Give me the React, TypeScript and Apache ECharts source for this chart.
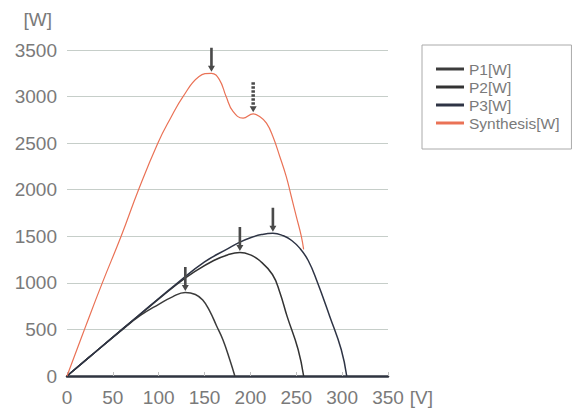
import React, { useEffect, useRef } from "react";
import * as echarts from "echarts";

const xTicks = [0, 50, 100, 150, 200, 250, 300, 350];
const yTicks = [0, 500, 1000, 1500, 2000, 2500, 3000, 3500];

const p1: [number, number][] = [
  [0, 0], [30, 250], [60, 495], [80, 650], [100, 770], [115, 850], [129, 897],
  [140, 875], [148, 815], [155.5, 700], [163, 540], [170, 390], [177.5, 175], [183, 0],
];
const p2: [number, number][] = [
  [0, 0], [30, 250], [60, 500], [90, 745], [120, 985], [140, 1125], [160, 1240],
  [175, 1300], [188.5, 1325], [200, 1300], [210, 1240], [224, 1090], [232, 900],
  [240, 640], [252, 285], [258, 0],
];
const p3: [number, number][] = [
  [0, 0], [30, 250], [60, 500], [90, 750], [120, 995], [150, 1225], [175, 1365],
  [188, 1435], [200, 1485], [212, 1518], [224.5, 1532], [236, 1505], [245, 1455],
  [254, 1370], [263, 1240], [272.5, 1020], [286.5, 640], [299, 285], [305, 0],
];
const synthesis: [number, number][] = [
  [0, 0], [20, 525], [38.5, 1000], [59, 1500], [78, 2000], [99, 2500], [113, 2770],
  [126.5, 3000], [144, 3215], [157.5, 3250], [166, 3185], [173.5, 3000], [181, 2840],
  [192, 2768], [203, 2815], [210, 2785], [217.5, 2715], [224.5, 2572], [232, 2357],
  [239, 2143], [244.5, 1930], [250, 1714], [255.5, 1500], [258, 1360],
];

const p1Peak: [number, number] = [129, 897];
const p2Peak: [number, number] = [188.5, 1325];
const p3Peak: [number, number] = [224.5, 1532];
const synPeak: [number, number] = [157.5, 3250];
const synLocalPeak: [number, number] = [203, 2815];

const ARROW = "path://M2.5,0H5.5V18H8L4,24L0,18H2.5Z";
const DOTTED =
  "path://M2,0h4v2.5h-4z M2,4h4v2.5h-4z M2,8h4v2.5h-4z M2,12h4v2.5h-4z M2,16h4v2.5h-4z M2,20h4v2.5h-4z M0,24H8L4,30Z";

const FONT = "Liberation Sans, Arial, sans-serif";
const TEXT = "#7a7a7a";

function arrowMark(coord: [number, number], dotted = false) {
  return {
    coord,
    symbol: dotted ? DOTTED : ARROW,
    symbolSize: dotted ? [7, 30] : [7, 24],
    symbolOffset: dotted ? [0, -16.5] : [0, -13.5],
    itemStyle: { color: "#4a4a4a" },
    label: { show: false },
  };
}

export default function App() {
  const ref = useRef<HTMLDivElement>(null);
  useEffect(() => {
    document.body.style.margin = "0";
    if (!ref.current) return;
    const chart = echarts.init(ref.current, null, { renderer: "svg" });
    const lineSeries = (name: string, data: [number, number][], color: string, width: number, marks: any[]) => ({
      name,
      type: "line",
      data,
      smooth: 0.45,
      showSymbol: false,
      symbol: "none",
      color,
      lineStyle: { color, width },
      markPoint: marks.length ? { data: marks, animation: false } : undefined,
      z: 2,
    });
    chart.setOption({
      animation: false,
      textStyle: { fontFamily: FONT },
      grid: { left: 67, right: 193, top: 50, bottom: 40 },
      legend: {
        orient: "vertical",
        left: 422,
        top: 45,
        padding: [16, 12, 18, 14],
        itemGap: 2,
        itemWidth: 28,
        itemHeight: 3,
        icon: "rect",
        borderColor: "#aaaaaa",
        borderWidth: 1,
        selectedMode: false,
        textStyle: { color: TEXT, fontSize: 15.5, fontFamily: FONT },
        data: ["P1[W]", "P2[W]", "P3[W]", "Synthesis[W]"],
      },
      xAxis: {
        type: "value",
        min: xTicks[0],
        max: xTicks[xTicks.length - 1],
        interval: 50,
        name: "[V]",
        nameLocation: "end",
        nameGap: 20,
        nameTextStyle: {
          color: TEXT,
          fontSize: 19,
          fontFamily: FONT,
          verticalAlign: "top",
          align: "left",
          padding: [12, 0, 0, 0],
        },
        axisLine: { show: true, lineStyle: { color: "#2f3440", width: 2.5 } },
        axisTick: { show: true, inside: true, length: 4, lineStyle: { color: "#c0c0c0" } },
        axisLabel: { color: TEXT, fontSize: 19, margin: 12, fontFamily: FONT },
        splitLine: { show: false },
      },
      yAxis: {
        type: "value",
        min: yTicks[0],
        max: yTicks[yTicks.length - 1],
        interval: 500,
        name: "[W]",
        nameLocation: "end",
        nameGap: 21,
        nameTextStyle: {
          color: TEXT,
          fontSize: 19,
          fontFamily: FONT,
          align: "right",
          padding: [0, 15, 0, 0],
        },
        axisLine: { show: false },
        axisTick: { show: false },
        axisLabel: {
          color: TEXT,
          fontSize: 19,
          margin: 10,
          fontFamily: FONT,
          formatter: (v: number) => String(v),
        },
        splitLine: { show: true, lineStyle: { color: "#c6cec9", width: 1 } },
      },
      series: [
        lineSeries("P1[W]", p1, "#3c3c3c", 1.5, [arrowMark(p1Peak)]),
        lineSeries("P2[W]", p2, "#333333", 1.5, [arrowMark(p2Peak)]),
        lineSeries("P3[W]", p3, "#2e3445", 1.5, [arrowMark(p3Peak)]),
        lineSeries("Synthesis[W]", synthesis, "#ea7256", 1.2, [
          arrowMark(synPeak),
          arrowMark(synLocalPeak, true),
        ]),
      ],
    });
    return () => chart.dispose();
  }, []);
  return <div ref={ref} style={{ width: 581, height: 416 }} />;
}
